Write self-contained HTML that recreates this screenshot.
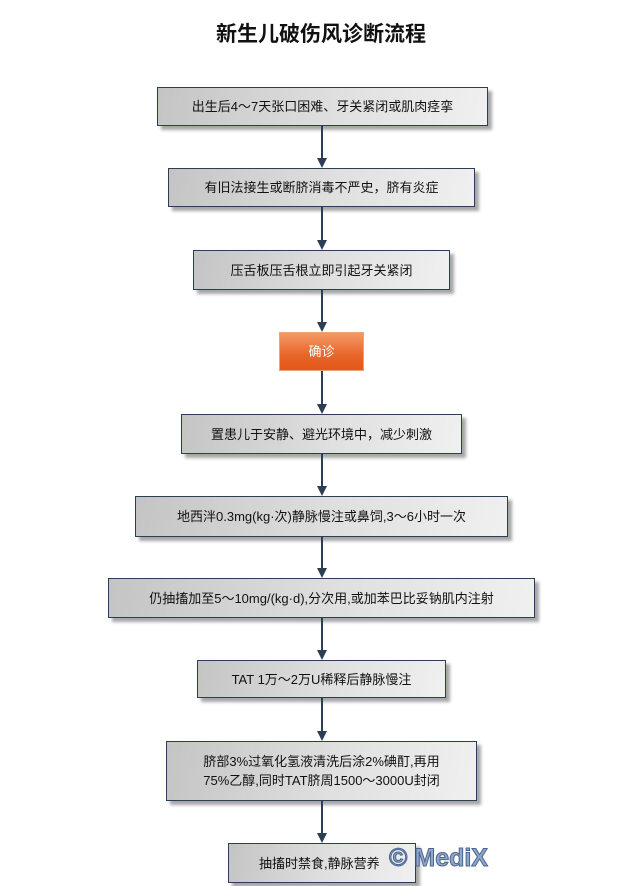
<!DOCTYPE html>
<html><head><meta charset="utf-8"><style>
body{margin:0;width:642px;height:886px;background:#fff;position:relative;overflow:hidden;font-family:"Liberation Sans","Noto Sans CJK SC",sans-serif}
.t{position:absolute;top:18px;left:0;width:642px;text-align:center;font-size:21px;font-weight:bold;color:#111}
.b{position:absolute;box-sizing:border-box;border:1px solid #2c3e55;background:linear-gradient(100deg,#c4c4c4 0%,#e0e0e0 55%,#f0f0f0 100%);box-shadow:4px 4px 3px rgba(0,0,0,0.35);display:flex;align-items:center;justify-content:center;text-align:center;font-size:13px;color:#111;line-height:19px}
.o{background:linear-gradient(180deg,#f39a66 0%,#e8652a 60%,#e25818 100%);border:1px solid #e8a37a;color:#fff;box-shadow:none}
.l{position:absolute;left:321px;width:1.5px;background:#2c3e55}
.a{position:absolute;left:317px;width:0;height:0;border-left:5px solid transparent;border-right:5px solid transparent;border-top:10px solid #2c3e55}
.m{position:absolute;left:389px;top:844px;font-size:25px;font-weight:bold;color:#8fa6c8;-webkit-text-stroke:1px #4a6690}
</style></head><body>
<div class="t">新生儿破伤风诊断流程</div>
<div class="b" style="left:157px;top:87px;width:331px;height:39px">出生后4～7天张口困难、牙关紧闭或肌肉痉挛</div>
<div class="b" style="left:168px;top:168px;width:307px;height:39px">有旧法接生或断脐消毒不严史，脐有炎症</div>
<div class="b" style="left:193px;top:250px;width:257px;height:40px">压舌板压舌根立即引起牙关紧闭</div>
<div class="b o" style="left:279px;top:332px;width:85px;height:39px">确诊</div>
<div class="b" style="left:181px;top:414px;width:281px;height:40px">置患儿于安静、避光环境中，减少刺激</div>
<div class="b" style="left:135px;top:496px;width:373px;height:41px">地西泮0.3mg(kg·次)静脉慢注或鼻饲,3～6小时一次</div>
<div class="b" style="left:108px;top:578px;width:427px;height:40px">仍抽搐加至5～10mg/(kg·d),分次用,或加苯巴比妥钠肌内注射</div>
<div class="b" style="left:197px;top:660px;width:249px;height:38px">TAT 1万～2万U稀释后静脉慢注</div>
<div class="b" style="left:166px;top:741px;width:311px;height:60px">脐部3%过氧化氢液清洗后涂2%碘酊,再用<br>75%乙醇,同时TAT脐周1500～3000U封闭</div>
<div class="b" style="left:228px;top:843px;width:188px;height:40px;justify-content:flex-start;padding-left:30px">抽搐时禁食,静脉营养</div>
<div class="m">© MediX</div>
<div class="l" style="top:126px;height:36px"></div><div class="a" style="top:158px"></div>
<div class="l" style="top:207px;height:37px"></div><div class="a" style="top:240px"></div>
<div class="l" style="top:290px;height:36px"></div><div class="a" style="top:322px"></div>
<div class="l" style="top:371px;height:37px"></div><div class="a" style="top:404px"></div>
<div class="l" style="top:454px;height:36px"></div><div class="a" style="top:486px"></div>
<div class="l" style="top:537px;height:35px"></div><div class="a" style="top:568px"></div>
<div class="l" style="top:618px;height:36px"></div><div class="a" style="top:650px"></div>
<div class="l" style="top:698px;height:37px"></div><div class="a" style="top:731px"></div>
<div class="l" style="top:801px;height:36px"></div><div class="a" style="top:833px"></div>
</body></html>
